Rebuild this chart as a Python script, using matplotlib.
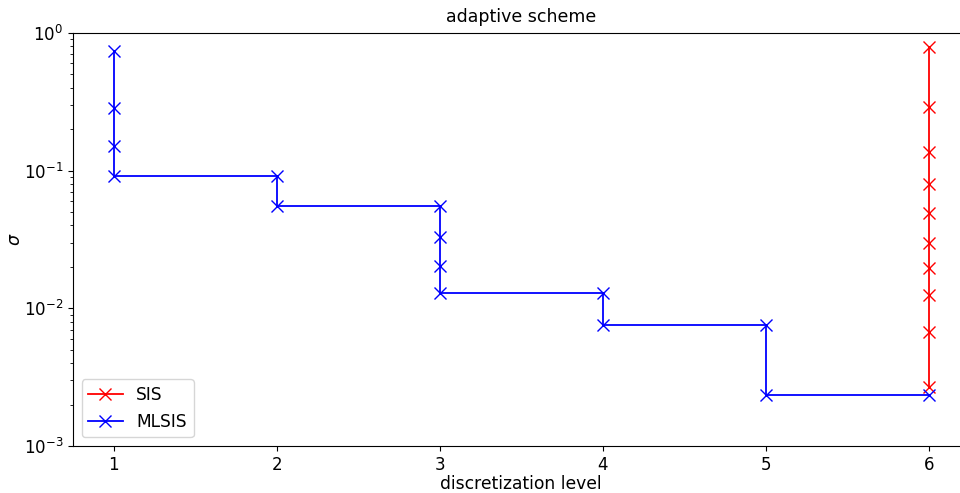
import matplotlib
matplotlib.use('Agg')
import matplotlib.pyplot as plt

# MLSIS: adaptive sigma sequence per discretization level
ml_level = [1, 1, 1, 1, 2, 2, 3, 3, 3, 3, 4, 4, 5, 5, 6]
ml_sigma = [0.74, 0.285, 0.151, 0.0916, 0.0916, 0.0554, 0.0554, 0.033,
            0.0203, 0.0129, 0.0129, 0.00757, 0.00757, 0.00235, 0.00235]

# SIS: only on the finest level
sis_level = [6] * 10
sis_sigma = [0.791, 0.29, 0.137, 0.08, 0.0493, 0.0299, 0.0197, 0.0125,
             0.00674, 0.00269]

fig = plt.figure(figsize=(9.6, 4.93), dpi=100)
ax = fig.add_axes([0.076, 0.0953, 0.934, 0.838])

ax.plot(sis_level, sis_sigma, color='red', marker='x', markersize=9,
        linewidth=1.3, label='SIS')
ax.plot(ml_level, ml_sigma, color='blue', marker='x', markersize=9,
        linewidth=1.3, label='MLSIS')

ax.set_yscale('log')
ax.set_ylim(1e-3, 1)
ax.set_xlim(0.75, 6.25)
ax.set_xticks([1, 2, 3, 4, 5, 6])
ax.tick_params(labelsize=12)

ax.set_title('adaptive scheme', fontsize=12.5, pad=8)
ax.set_xlabel('discretization level', fontsize=12.3, labelpad=1)
ax.set_ylabel(r'$\sigma$', fontsize=12.5, labelpad=0)
ax.legend(loc='lower left', fontsize=12.3)

fig.savefig('out.png', dpi=100)
